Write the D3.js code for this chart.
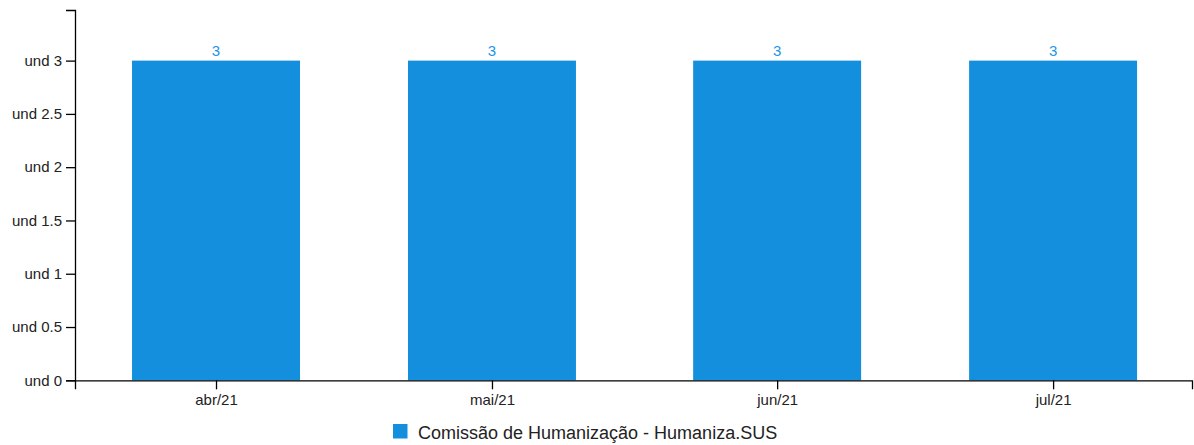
<!DOCTYPE html>
<html><head><meta charset="utf-8">
<script src="https://cdn.jsdelivr.net/npm/d3@7"></script>
<style>
body{margin:0;background:#fff;}
svg{display:block;font-family:"Liberation Sans",Arial,sans-serif;}
</style></head>
<body><svg id="c" width="1194" height="445"></svg>
<script>
const categories = ["2021-04-01","2021-05-01","2021-06-01","2021-07-01"];
const tickLabels = ["abr/21","mai/21","jun/21","jul/21"];
const values = [3,3,3,3];
const seriesName = "Comissão de Humanização - Humaniza.SUS";
const yTicks = [0,0.5,1,1.5,2,2.5,3];

const svg = d3.select("#c");
const day = 864e5;
const dates = categories.map(s => new Date(s + "T00:00:00Z"));
const x = d3.scaleUtc()
  .domain([new Date(+dates[0] - 15.33*day), new Date(+dates[3] + 15.1*day)])
  .range([75, 1192]);
const y = d3.scaleLinear().domain([0, 3.475]).range([380.3, 10]);
const color = "#138fdd";
const halfW = 9.13*day;

svg.append("g").selectAll("rect").data(values).join("rect")
  .attr("x", (d,i) => x(new Date(+dates[i] - halfW)))
  .attr("width", (d,i) => x(new Date(+dates[i] + halfW)) - x(new Date(+dates[i] - halfW)))
  .attr("y", d => y(d))
  .attr("height", d => y(0) - y(d))
  .attr("fill", color);

svg.append("g").selectAll("text").data(values).join("text")
  .attr("x", (d,i) => x(dates[i]))
  .attr("y", d => y(d) - 5)
  .attr("text-anchor","middle")
  .style("font-size", "15px")
  .attr("fill", "#2196e8")
  .text(d => d);

const yAxis = svg.append("g").attr("transform","translate(75,0)")
  .call(d3.axisLeft(y).tickValues(yTicks).tickSize(9).tickSizeOuter(9).tickPadding(4).tickFormat(d => "und " + d));
const xAxis = svg.append("g").attr("transform","translate(0,380.3)")
  .call(d3.axisBottom(x).tickValues(dates).tickSize(9).tickSizeOuter(9).tickPadding(4).tickFormat((d,i) => tickLabels[i]));
[yAxis, xAxis].forEach(a => {
  a.attr("font-size", null).attr("font-family", null);
  a.selectAll("text").style("font-size", "15px").attr("fill","#222");
  a.selectAll("path,line").attr("stroke","#000").attr("stroke-width",1.3);
});
xAxis.selectAll("text").attr("dy","0.81em");

const lg = svg.append("g");
lg.append("rect").attr("x",393).attr("y",424).attr("width",14.5).attr("height",14.5).attr("fill",color);
lg.append("text").attr("x",418).attr("y",438.5).style("font-size","18px").attr("fill","#222").text(seriesName);
</script></body></html>
